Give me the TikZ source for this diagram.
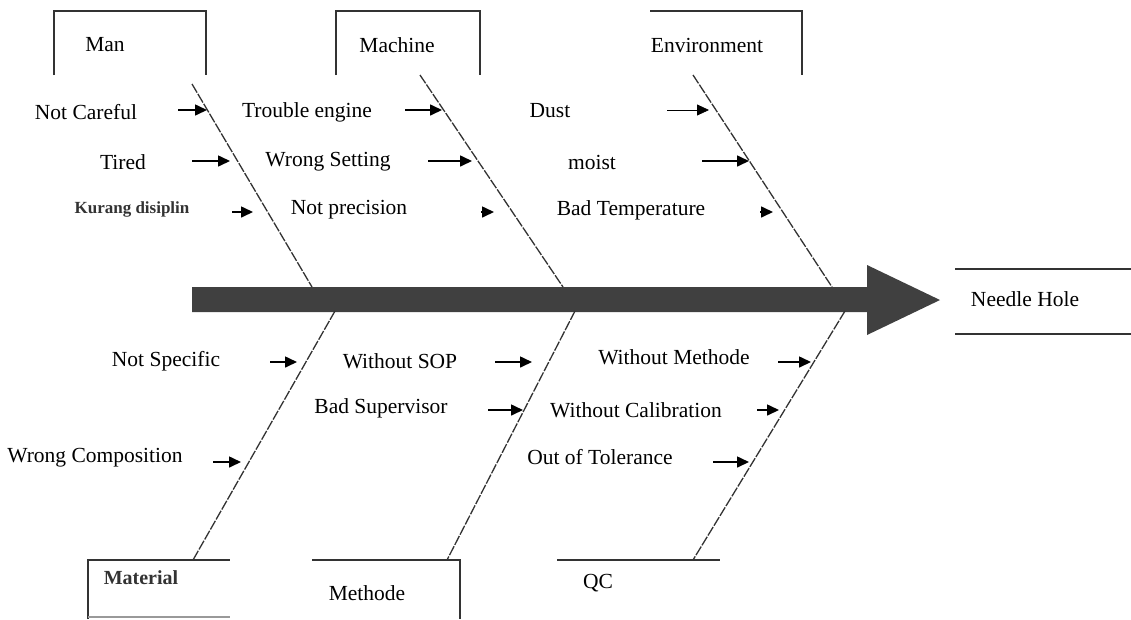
\documentclass[tikz,border=0pt]{standalone}
\usepackage{fontspec}
\setmainfont{Liberation Serif}
\usetikzlibrary{arrows.meta}
\definecolor{ink}{HTML}{333333}
\definecolor{barcol}{HTML}{404040}
\begin{document}
\begin{tikzpicture}[x=1pt,y=-1pt,
  lbl/.style={font=\fontsize{21.5}{25}\selectfont, inner sep=0pt, anchor=center},
  boxline/.style={draw=ink, line width=1.9pt},
  spine/.style={draw=ink, line width=1.3pt, dash pattern=on 10pt off 1.5pt},
  cause/.style={draw=black, line width=1.6pt, -{Triangle[length=12pt,width=11pt]}},
  tipOnly/.style={draw=black, line width=1.6pt, -{Triangle[length=12pt,width=11pt]}}]
\useasboundingbox (0,0) rectangle (1131,619);
\fill[white] (0,0) rectangle (1131,619);

% category boxes (top)
\draw[boxline] (54,75) -- (54,11) -- (206,11) -- (206,75);
\node[lbl] (man) at (105,45) {Man};
\draw[boxline] (336,75) -- (336,11) -- (480,11) -- (480,75);
\node[lbl] (machine) at (397,45) {Machine};
\draw[boxline] (650,11) -- (802,11) -- (802,75);
\node[lbl] (env) at (707,45) {Environment};

% category boxes (bottom)
\draw[boxline] (88,619) -- (88,560) -- (230,560);
\draw[draw=ink!50, line width=1.2pt] (88,617) -- (230,617);
\node[lbl, font=\fontsize{20}{24}\selectfont\bfseries, text=ink] (material) at (141,578) {Material};
\draw[boxline] (312,560) -- (460,560) -- (460,619);
\node[lbl] (methode) at (367,593) {Methode};
\draw[boxline] (557,560) -- (720,560);
\node[lbl] (qc) at (598,583) {QC};

% effect box
\draw[boxline] (955,269) -- (1131,269);
\draw[boxline] (955,334) -- (1131,334);
\node[lbl] (effect) at (1025,299) {Needle Hole};

% main bar with arrow head
\fill[barcol] (192,287) -- (867,287) -- (867,265) -- (940,300) -- (867,335) -- (867,312) -- (192,312) -- cycle;

% spines
\coordinate (s1a) at (192,84);  \coordinate (s1b) at (312,287);
\coordinate (s2a) at (420,75);  \coordinate (s2b) at (563,287);
\coordinate (s3a) at (693,75);  \coordinate (s3b) at (832,287);
\coordinate (s4a) at (335,311); \coordinate (s4b) at (193,560);
\coordinate (s5a) at (575,311); \coordinate (s5b) at (447,560);
\coordinate (s6a) at (845,311); \coordinate (s6b) at (693,560);
\draw[spine] (s1a) -- (s1b);
\draw[spine] (s2a) -- (s2b);
\draw[spine] (s3a) -- (s3b);
\draw[spine] (s4a) -- (s4b);
\draw[spine] (s5a) -- (s5b);
\draw[spine] (s6a) -- (s6b);

% upper causes
\node[lbl] (c1) at (86,112) {Not Careful};
\node[lbl] (c2) at (123,162) {Tired};
\node[lbl, font=\fontsize{17}{20}\selectfont\bfseries, text=ink] (c3) at (132,209) {Kurang disiplin};
\node[lbl] (c4) at (307,112) {Trouble engine};
\node[lbl] (c5) at (328,162) {Wrong Setting};
\node[lbl] (c6) at (349,210) {Not precision};
\node[lbl] (c7) at (550,111) {Dust};
\node[lbl] (c8) at (592,162) {moist};
\node[lbl] (c9) at (631,210) {Bad Temperature};

\coordinate (a1s) at (178,110); \coordinate (a1e) at (207,110);
\coordinate (a2s) at (192,161); \coordinate (a2e) at (230,161);
\coordinate (a3s) at (232,212); \coordinate (a3e) at (253,212);
\coordinate (a4s) at (405,110); \coordinate (a4e) at (442,110);
\coordinate (a5s) at (428,161); \coordinate (a5e) at (472,161);
\coordinate (a6s) at (481,212); \coordinate (a6e) at (494,212);
\coordinate (a7s) at (667,110); \coordinate (a7e) at (709,110);
\coordinate (a8s) at (702,161); \coordinate (a8e) at (749,161);
\coordinate (a9s) at (760,212); \coordinate (a9e) at (773,212);
\draw[cause] (a1s) -- (a1e);
\draw[cause] (a2s) -- (a2e);
\draw[cause] (a3s) -- (a3e);
\draw[cause] (a4s) -- (a4e);
\draw[cause] (a5s) -- (a5e);
\draw[tipOnly] (a6s) -- (a6e);
\draw[cause, line width=0.8pt] (a7s) -- (a7e);
\draw[cause] (a8s) -- (a8e);
\draw[tipOnly] (a9s) -- (a9e);

% lower causes
\node[lbl] (d1) at (166,361) {Not Specific};
\node[lbl] (d2) at (95,458) {Wrong Composition};
\node[lbl] (d3) at (400,361) {Without SOP};
\node[lbl] (d4) at (381,408) {Bad Supervisor};
\node[lbl] (d5) at (674,357) {Without Methode};
\node[lbl] (d6) at (636,410) {Without Calibration};
\node[lbl] (d7) at (600,457) {Out of Tolerance};

\coordinate (b1s) at (270,362); \coordinate (b1e) at (297,362);
\coordinate (b2s) at (213,462); \coordinate (b2e) at (241,462);
\coordinate (b3s) at (495,362); \coordinate (b3e) at (532,362);
\coordinate (b4s) at (488,410); \coordinate (b4e) at (523,410);
\coordinate (b5s) at (778,362); \coordinate (b5e) at (811,362);
\coordinate (b6s) at (757,410); \coordinate (b6e) at (779,410);
\coordinate (b7s) at (713,462); \coordinate (b7e) at (749,462);
\draw[cause] (b1s) -- (b1e);
\draw[cause] (b2s) -- (b2e);
\draw[cause] (b3s) -- (b3e);
\draw[cause] (b4s) -- (b4e);
\draw[cause] (b5s) -- (b5e);
\draw[cause] (b6s) -- (b6e);
\draw[cause] (b7s) -- (b7e);
\end{tikzpicture}
\end{document}
